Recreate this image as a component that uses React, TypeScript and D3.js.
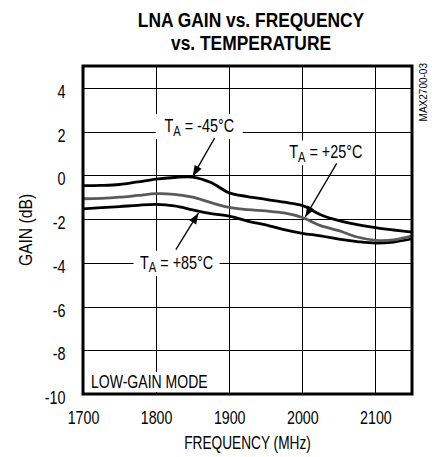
import React from "react";
import * as d3 from "d3";

const freqs = [1700, 1725, 1750, 1775, 1800, 1825, 1850, 1875, 1900, 1925, 1950, 1975, 2000, 2025, 2050, 2075, 2100, 2125, 2150];
const gainM45 = [-0.47, -0.46, -0.42, -0.3, -0.17, -0.1, -0.08, -0.33, -0.8, -0.97, -1.1, -1.23, -1.38, -1.8, -2.07, -2.25, -2.39, -2.5, -2.6];
const gainP25 = [-1.07, -1.05, -1.0, -0.92, -0.84, -0.87, -1.0, -1.25, -1.47, -1.57, -1.63, -1.72, -1.93, -2.3, -2.53, -2.82, -2.97, -2.95, -2.77];
const gainP85 = [-1.53, -1.48, -1.43, -1.37, -1.33, -1.4, -1.58, -1.75, -1.87, -2.09, -2.27, -2.48, -2.65, -2.77, -2.92, -3.03, -3.1, -3.05, -2.9];

const xTicks = [1700, 1800, 1900, 2000, 2100];
const yTicks = [4, 2, 0, -2, -4, -6, -8, -10];
const xGrid = [1800, 1900, 2000, 2100];
const yGrid = [4, 2, 0, -2, -4, -6, -8];

const series = [
  { name: "-45", values: gainM45, color: "#000" },
  { name: "+85", values: gainP85, color: "#000" },
  { name: "+25", values: gainP25, color: "#5a5a5a" },
];

// annotation: tip (freq, gain), tail (freq, gain), label center (freq, gain)
const annotations = [
  { temp: "-45°C", tip: [1850, -0.05], tail: [1880, 1.7], label: [1859, 2.25], boxW: 87 },
  { temp: "+25°C", tip: [2004, -1.9], tail: [2047, 0.55], label: [2032, 1.05], boxW: 86 },
  { temp: "+85°C", tip: [1858, -1.72], tail: [1827, -3.4], label: [1828, -4], boxW: 86 },
];

const FONT = "'Liberation Sans', Arial, sans-serif";

function T(props: { x: number; y: number; sx: number; rot?: number; anchor?: string; size: number; bold?: boolean; children: React.ReactNode }) {
  const { x, y, sx, rot, anchor, size, bold, children } = props;
  return (
    <text
      transform={`translate(${x},${y})${rot ? ` rotate(${rot})` : ""} scale(${sx},1)`}
      textAnchor={anchor || "start"}
      fontSize={size}
      fontWeight={bold ? "bold" : "normal"}
    >
      {children}
    </text>
  );
}

export default function App() {
  const W = 432, H = 457;
  const x = d3.scaleLinear().domain([1700, 2150]).range([83, 412]);
  const y = d3.scaleLinear().domain([-10, 5]).range([394, 66]);
  const line = d3
    .line<number>()
    .x((_, i) => x(freqs[i]))
    .y((d) => y(d))
    .curve(d3.curveCatmullRom.alpha(0.5));

  const arrowHead = (tx: number, ty: number, fx: number, fy: number) => {
    const ang = Math.atan2(ty - fy, tx - fx);
    const L = 11, Wd = 4;
    const bx = tx - L * Math.cos(ang), by = ty - L * Math.sin(ang);
    const px = -Math.sin(ang) * Wd, py = Math.cos(ang) * Wd;
    return `M${tx},${ty} L${bx + px},${by + py} L${bx - px},${by - py} Z`;
  };

  return (
    <svg width={W} height={H} style={{ position: "absolute", left: 0, top: 0, background: "#fff" }} fontFamily={FONT}>
      <rect width={W} height={H} fill="#fff" />
      {/* title */}
      <T x={251} y={27} sx={0.87} anchor="middle" size={20} bold>LNA GAIN vs. FREQUENCY</T>
      <T x={251} y={50} sx={0.87} anchor="middle" size={20} bold>vs. TEMPERATURE</T>

      {/* grid */}
      {xGrid.map((f) => (
        <line key={"vx" + f} x1={Math.round(x(f)) + 0.5} x2={Math.round(x(f)) + 0.5} y1={y(5)} y2={y(-10)} stroke="#000" strokeWidth={1} />
      ))}
      {yGrid.map((v) => (
        <line key={"hy" + v} x1={x(1700)} x2={x(2150)} y1={Math.round(y(v)) + 0.5} y2={Math.round(y(v)) + 0.5} stroke="#000" strokeWidth={1} />
      ))}

      {/* label background boxes */}
      {annotations.map((a) => (
        <rect key={"bg" + a.temp} x={x(a.label[0]) - a.boxW / 2} y={y(a.label[1]) - 12} width={a.boxW} height={25} fill="#fff" />
      ))}
      <rect x={86} y={372} width={125} height={20} fill="#fff" />

      {/* curves */}
      {series.map((s) => (
        <path key={s.name} d={line(s.values) || ""} fill="none" stroke={s.color} strokeWidth={2.8} strokeLinejoin="round" />
      ))}

      {/* frame */}
      <rect x={x(1700)} y={y(5)} width={x(2150) - x(1700)} height={y(-10) - y(5)} fill="none" stroke="#000" strokeWidth={3} />

      {/* annotations */}
      {annotations.map((a) => {
        const tx = x(a.tip[0]), ty = y(a.tip[1]);
        const fx = x(a.tail[0]), fy = y(a.tail[1]);
        const lx = x(a.label[0]), ly = y(a.label[1]);
        return (
          <g key={"an" + a.temp}>
            <line x1={fx} y1={fy} x2={tx} y2={ty} stroke="#000" strokeWidth={1.3} />
            <path d={arrowHead(tx, ty, fx, fy)} fill="#000" />
            <T x={lx} y={ly + 6} sx={0.8} anchor="middle" size={18}>
              T<tspan fontSize={14} dy={3.5}>A</tspan><tspan dy={-3.5}>{" = " + a.temp}</tspan>
            </T>
          </g>
        );
      })}

      <T x={91} y={388} sx={0.78} size={18}>LOW-GAIN MODE</T>

      {/* axes tick labels */}
      {yTicks.map((v) => (
        <T key={"yt" + v} x={65.5} y={y(v) + 10} sx={0.8} anchor="end" size={18}>{v}</T>
      ))}
      {xTicks.map((f) => (
        <T key={"xt" + f} x={x(f) + 0.5} y={423.5} sx={0.79} anchor="middle" size={18}>{f}</T>
      ))}
      <T x={247.5} y={449} sx={0.76} anchor="middle" size={18}>FREQUENCY (MHz)</T>
      <T x={32} y={230} rot={-90} sx={0.87} anchor="middle" size={18}>GAIN (dB)</T>
      <T x={427} y={63} rot={-90} sx={1} anchor="end" size={10}>MAX2700-03</T>
    </svg>
  );
}
